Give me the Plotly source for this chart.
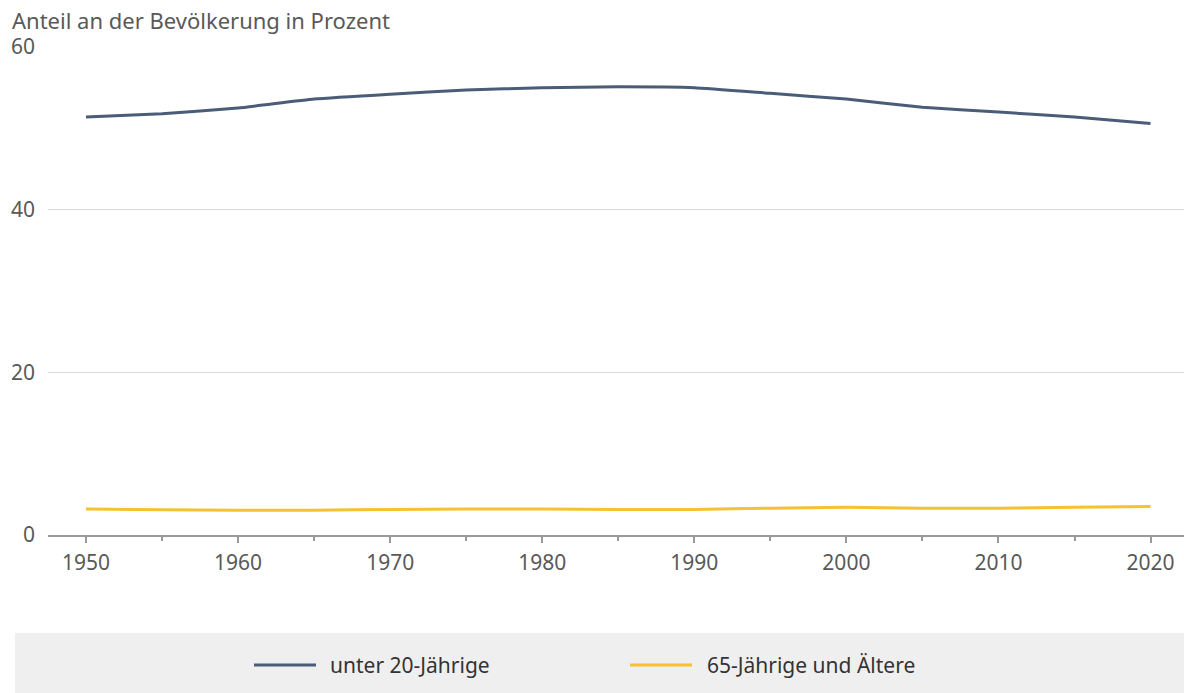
import plotly.graph_objects as go

years = [1950, 1955, 1960, 1965, 1970, 1975, 1980, 1985, 1990, 1995, 2000, 2005, 2010, 2015, 2020]
under20 = [51.4, 51.8, 52.5, 53.6, 54.2, 54.7, 55.0, 55.1, 55.0, 54.3, 53.6, 52.6, 52.0, 51.4, 50.6]
over65 = [3.2, 3.1, 3.05, 3.05, 3.15, 3.2, 3.2, 3.15, 3.15, 3.3, 3.4, 3.3, 3.3, 3.4, 3.5]
series_names = ["unter 20-Jährige", "65-Jährige und Ältere"]
colors = ["#4a5c78", "#f4c232"]
y_ticks = [0, 20, 40, 60]
x_ticks = [1950, 1960, 1970, 1980, 1990, 2000, 2010, 2020]

W, H = 1184, 693
ML, MR, MT, MB = 48, 0, 47, 158
PW, PH = W - ML - MR, H - MT - MB

def px_x(p):
    return (p - ML) / PW

def px_y(p):
    return (H - MB - p) / PH

FONT = "Noto Sans"

fig = go.Figure()
for name, vals, col in zip(series_names, [under20, over65], colors):
    fig.add_trace(go.Scatter(x=years, y=vals, name=name, mode="lines",
                             line=dict(color=col, width=3, shape="spline", smoothing=0.4),
                             showlegend=False))

fig.update_layout(
    width=W, height=H,
    margin=dict(l=ML, r=MR, t=MT, b=MB),
    paper_bgcolor="white", plot_bgcolor="white",
    font=dict(family=FONT, color="#595959", size=18),
    xaxis=dict(range=[1947.5, 2022.2], tickvals=x_ticks, showgrid=False,
               showline=True, linecolor="#9a9a9a", linewidth=1.5,
               ticks="outside", ticklen=6, tickcolor="#9a9a9a", tickwidth=1.5,
               minor=dict(dtick=5, tick0=1950, ticks="outside", ticklen=4, tickcolor="#9a9a9a", tickwidth=1.5, showgrid=False),
               tickfont=dict(size=21, color="#595959"), ticklabelstandoff=2,
               zeroline=False, fixedrange=True),
    yaxis=dict(range=[0, 60], tickvals=y_ticks, showgrid=True, gridcolor="#d9d9d9", gridwidth=1,
               zeroline=False, showline=False, ticks="", ticklabelstandoff=12,
               tickfont=dict(size=21, color="#595959"), fixedrange=True),
)

fig.add_annotation(text="Anteil an der Bevölkerung in Prozent", xref="paper", yref="paper",
                   x=px_x(10), y=px_y(20), xanchor="left", yanchor="middle", showarrow=False,
                   font=dict(size=22, color="#595959", family=FONT))

# legend box
fig.add_shape(type="rect", xref="paper", yref="paper", x0=px_x(15), x1=px_x(W), y0=px_y(633), y1=px_y(H),
              fillcolor="#efefef", line=dict(width=0), layer="below")

legend_pos = [(254, 316, 328), (630, 692, 705)]
for (lx0, lx1, tx), name, col in zip(legend_pos, series_names, colors):
    fig.add_shape(type="line", xref="paper", yref="paper", x0=px_x(lx0), x1=px_x(lx1),
                  y0=px_y(665), y1=px_y(665), line=dict(color=col, width=3))
    fig.add_annotation(text=name, xref="paper", yref="paper", x=px_x(tx), y=px_y(665),
                       xanchor="left", yanchor="middle", showarrow=False,
                       font=dict(size=21, color="#333333", family=FONT))

fig.write_html("out.html", config={"displayModeBar": False},
               post_script="document.body.style.margin='0';document.body.style.overflow='hidden';")
